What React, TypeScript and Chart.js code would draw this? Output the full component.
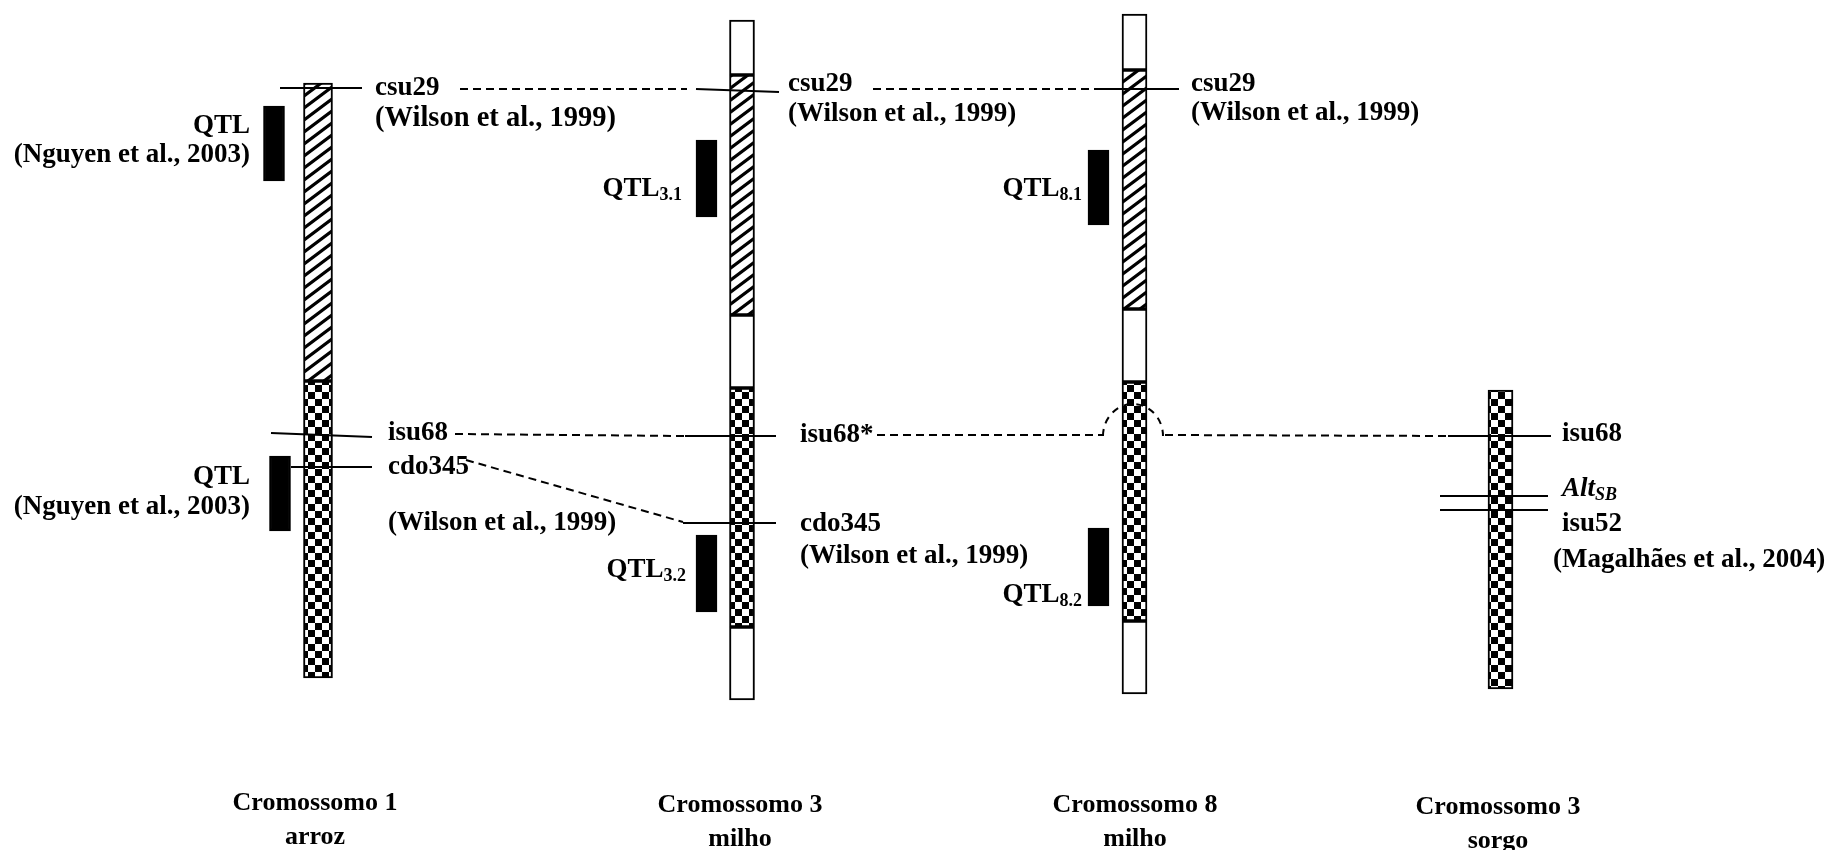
import React, { useEffect, useRef } from "react";
import { Chart, registerables } from "chart.js";
Chart.register(...registerables);

// ---- data (positions in diagram units, y grows downward) ----
const chromosomeNames = ["Cromossomo 1", "Cromossomo 3", "Cromossomo 8", "Cromossomo 3"];
const speciesNames = ["arroz", "milho", "milho", "sorgo"];
const chromosomeAxisX = [318, 742, 1134.5, 1500.5];
const titleX = [315, 740, 1135, 1498];
const titleY = [803, 805, 805, 807];
const speciesY = [837, 839, 839, 841];

// segments: [chromosome index, start, end]
const hatchedSegments = [[0, 83, 381], [1, 75, 315], [2, 70, 309]];
const checkerSegments = [[0, 381, 678], [1, 388, 627], [2, 382, 621], [3, 390, 689]];
const openSegments = [[1, 20, 75], [1, 315, 388], [1, 627, 700], [2, 14, 70], [2, 309, 382], [2, 621, 694]];

// QTL intervals
const qtlX = [274, 280, 706.5, 706.5, 1098.5, 1098.5];
const qtlStart = [106, 456, 140, 535, 150, 528];
const qtlEnd = [181, 531, 217, 612, 225, 606];
const qtlSub = ["", "", "3.1", "3.2", "8.1", "8.2"];
const qtlLabelX = [250, 250, 682, 686, 1082, 1082];
const qtlLabelY = [126, 477, 189, 570, 189, 595];
const qtlRefs = ["(Nguyen et al., 2003)", "(Nguyen et al., 2003)", "", "", "", ""];
const qtlRefY = [155, 507, 0, 0, 0, 0];

// markers
const markerNames = ["csu29", "isu68", "cdo345", "csu29", "isu68*", "cdo345", "csu29", "isu68", "Alt", "isu52"];
const markerFromX = [280, 271, 291, 696, 685, 683, 1095, 1448, 1440, 1440];
const markerToX = [362, 372, 372, 779, 776, 776, 1179, 1551, 1548, 1548];
const markerFromY = [88, 433, 467, 89, 436, 523, 89, 436, 496, 510];
const markerToY = [88, 437, 467, 92, 436, 523, 89, 436, 496, 510];
const markerLabelX = [375, 388, 388, 788, 800, 800, 1191, 1562, 1562, 1562];
const markerLabelY = [88, 433, 467, 84, 435, 524, 84, 434, 489, 524];

// references
const refTexts = ["(Wilson et al., 1999)", "(Wilson et al., 1999)", "(Wilson et al., 1999)", "(Wilson et al., 1999)", "(Wilson et al., 1999)", "(Magalhães et al., 2004)"];
const refX = [375, 388, 788, 800, 1191, 1553];
const refY = [119, 523, 114, 556, 113, 560];

// dashed homology links
const linkFromX = [460, 873, 455, 466, 877, 1165];
const linkFromY = [89, 89, 434, 460, 435, 435];
const linkToX = [687, 1100, 684, 683, 1103, 1448];
const linkToY = [89, 89, 436, 522, 435, 436];
const arcCenter = [1133, 436];
const arcRadius = [30, 32];

// text styles (not data)
const refFontPx = [28.5, 27, 27, 27, 27, 27];

function makeHatch(): CanvasPattern {
  const W = 16, H = 12;
  const c = document.createElement("canvas");
  c.width = W; c.height = H;
  const g = c.getContext("2d")!;
  g.fillStyle = "#fff"; g.fillRect(0, 0, W, H);
  g.strokeStyle = "#000"; g.lineWidth = 3.2;
  g.beginPath();
  const s = H / W;
  for (let k = -1; k <= 1; k++) {
    g.moveTo(-2, H + k * H + 2 * s); g.lineTo(W + 2, k * H - 2 * s);
  }
  g.stroke();
  return g.createPattern(c, "repeat")!;
}

function makeChecker(): CanvasPattern {
  const c = document.createElement("canvas");
  c.width = 14; c.height = 14;
  const g = c.getContext("2d")!;
  g.fillStyle = "#fff"; g.fillRect(0, 0, 14, 14);
  g.fillStyle = "#000";
  g.fillRect(0, 0, 7, 7); g.fillRect(7, 7, 7, 7);
  return g.createPattern(c, "repeat")!;
}

const FONT = '"Liberation Serif", "Times New Roman", serif';

type Part = { t: string; f: string; dy: number };

function drawParts(ctx: CanvasRenderingContext2D, parts: Part[], x: number, y: number, align: string) {
  let w = 0;
  for (const p of parts) { ctx.font = p.f; w += ctx.measureText(p.t).width; }
  let cx = align === "right" ? x - w : align === "center" ? x - w / 2 : x;
  ctx.textAlign = "left";
  ctx.textBaseline = "middle";
  for (const p of parts) {
    ctx.font = p.f;
    ctx.fillText(p.t, cx, y + p.dy);
    cx += ctx.measureText(p.t).width;
  }
}

const overlay = {
  id: "overlay",
  afterDatasetsDraw(chart: any) {
    const ctx: CanvasRenderingContext2D = chart.ctx;
    const xs = chart.scales.x, ys = chart.scales.y;
    const px = (v: number) => xs.getPixelForValue(v);
    const py = (v: number) => ys.getPixelForValue(v);
    ctx.save();
    ctx.strokeStyle = "#000";
    ctx.fillStyle = "#000";
    // marker lines
    ctx.lineWidth = 1.8;
    ctx.setLineDash([]);
    for (let i = 0; i < markerNames.length; i++) {
      ctx.beginPath();
      ctx.moveTo(px(markerFromX[i]), py(markerFromY[i]));
      ctx.lineTo(px(markerToX[i]), py(markerToY[i]));
      ctx.stroke();
    }
    // dashed links
    ctx.lineWidth = 2;
    ctx.setLineDash([8, 5]);
    for (let i = 0; i < linkFromX.length; i++) {
      ctx.beginPath();
      ctx.moveTo(px(linkFromX[i]), py(linkFromY[i]));
      ctx.lineTo(px(linkToX[i]), py(linkToY[i]));
      ctx.stroke();
    }
    const cx = px(arcCenter[0]), cy = py(arcCenter[1]);
    const rx = Math.abs(px(arcCenter[0] + arcRadius[0]) - cx);
    const ry = Math.abs(py(arcCenter[1] + arcRadius[1]) - cy);
    ctx.setLineDash([7, 6]);
    ctx.beginPath();
    ctx.ellipse(cx, cy, rx, ry, 0, Math.PI, 2 * Math.PI);
    ctx.stroke();
    ctx.setLineDash([]);

    const B = `bold 27px ${FONT}`;
    const BS = `bold 18px ${FONT}`;
    const BI = `italic bold 27px ${FONT}`;
    const BIS = `italic bold 18px ${FONT}`;
    // marker labels
    for (let i = 0; i < markerNames.length; i++) {
      const x = px(markerLabelX[i]), y = py(markerLabelY[i]);
      if (markerNames[i] === "Alt") {
        drawParts(ctx, [{ t: "Alt", f: BI, dy: 0 }, { t: "SB", f: BIS, dy: 6 }], x, y, "left");
      } else {
        drawParts(ctx, [{ t: markerNames[i], f: B, dy: 0 }], x, y, "left");
      }
    }
    for (let i = 0; i < refTexts.length; i++) {
      drawParts(ctx, [{ t: refTexts[i], f: `bold ${refFontPx[i]}px ${FONT}`, dy: 0 }], px(refX[i]), py(refY[i]), "left");
    }
    for (let i = 0; i < qtlX.length; i++) {
      const parts: Part[] = [{ t: "QTL", f: B, dy: 0 }];
      if (qtlSub[i]) parts.push({ t: qtlSub[i], f: BS, dy: 6 });
      drawParts(ctx, parts, px(qtlLabelX[i]), py(qtlLabelY[i]), "right");
      if (qtlRefs[i]) drawParts(ctx, [{ t: qtlRefs[i], f: B, dy: 0 }], px(qtlLabelX[i]), py(qtlRefY[i]), "right");
    }
    // chromosome titles
    const T = `bold 26px ${FONT}`;
    for (let i = 0; i < chromosomeNames.length; i++) {
      drawParts(ctx, [{ t: chromosomeNames[i], f: T, dy: 0 }], px(titleX[i]), py(titleY[i]), "center");
      drawParts(ctx, [{ t: speciesNames[i], f: T, dy: 0 }], px(titleX[i]), py(speciesY[i]), "center");
    }
    ctx.restore();
  },
};

export default function App() {
  const ref = useRef<HTMLCanvasElement>(null);
  useEffect(() => {
    document.body.style.margin = "0";
    document.body.style.overflow = "hidden";
    const hatch = makeHatch();
    const checker = makeChecker();
    const seg = (arr: number[][], first: boolean) =>
      arr.filter(([c]) => (c === 0) === first).map(([c, s, e]) => ({ x: chromosomeAxisX[c], y: [s, e] }));
    const common = { borderColor: "#000", borderWidth: 2, borderSkipped: false, grouped: false };
    const chart = new Chart(ref.current!, {
      type: "bar",
      data: {
        datasets: [
          { label: "open", data: seg(openSegments, false), backgroundColor: "#fff", barThickness: 25, ...common },
          { label: "hatched", data: seg(hatchedSegments, false), backgroundColor: hatch, barThickness: 25, ...common },
          { label: "checker", data: seg(checkerSegments, false), backgroundColor: checker, barThickness: 25, ...common },
          { label: "hatched rice", data: seg(hatchedSegments, true), backgroundColor: hatch, barThickness: 29, ...common },
          { label: "checker rice", data: seg(checkerSegments, true), backgroundColor: checker, barThickness: 29, ...common },
          {
            label: "QTL",
            data: qtlX.map((x, i) => ({ x, y: [qtlStart[i], qtlEnd[i]] })),
            backgroundColor: "#000", barThickness: 21, ...common,
          },
        ] as any,
      },
      options: {
        animation: false,
        responsive: true,
        maintainAspectRatio: false,
        layout: { padding: 0 },
        scales: {
          x: { type: "linear", min: 0, max: 1827, display: false, offset: false },
          y: { type: "linear", min: 0, max: 850, reverse: true, display: false },
        },
        plugins: { legend: { display: false }, tooltip: { enabled: false } },
      } as any,
      plugins: [overlay],
    });
    return () => chart.destroy();
  }, []);
  return (
    <div style={{ position: "fixed", left: 0, top: 0, width: "1827px", height: "850px", background: "#fff" }}>
      <canvas ref={ref} />
    </div>
  );
}
